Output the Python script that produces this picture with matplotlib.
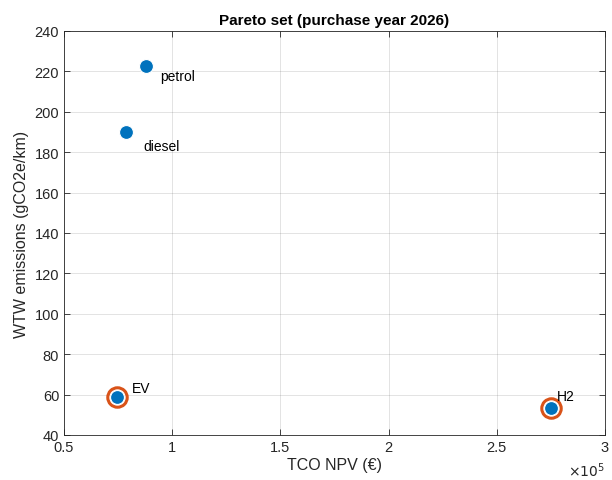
import numpy as np
import matplotlib
matplotlib.use('Agg')
import matplotlib.pyplot as plt
from matplotlib.ticker import FuncFormatter, MultipleLocator

plt.rcParams['font.family'] = ['Liberation Sans', 'DejaVu Sans']

# Data
names = ['petrol', 'diesel', 'EV', 'H2']
tco_npv = np.array([88000, 78800, 74500, 275000])    # EUR
wtw = np.array([222.5, 190.0, 59.0, 53.3])           # gCO2e/km
pareto = [False, False, True, True]
# label offsets in points (dx, dy)
label_offsets = [(10, -7), (12, -10), (11, 6), (4, 9)]

blue = '#0072BD'
orange = '#D95319'
axis_col = '#262626'

fig = plt.figure(figsize=(6.12, 4.81), dpi=100)
ax = fig.add_axes([0.1046, 0.0936, 0.884, 0.84])

px = tco_npv[pareto]
py = wtw[pareto]
ax.plot(px, py, 'o', ms=14, mfc='none', mec=orange, mew=2.2, zorder=3)
ax.plot(tco_npv, wtw, 'o', ms=10, mfc=blue, mec='white', mew=0.8, zorder=4)

for n, x, y, off in zip(names, tco_npv, wtw, label_offsets):
    ax.annotate(n, (x, y), xytext=off, textcoords='offset points',
                fontsize=10, color='black', va='center', ha='left')

ax.set_xlim(50000, 300000)
ax.set_ylim(40, 240)
ax.xaxis.set_major_locator(MultipleLocator(50000))
ax.yaxis.set_major_locator(MultipleLocator(20))
ax.xaxis.set_major_formatter(FuncFormatter(lambda v, p: f'{v/1e5:g}'))

ax.grid(True, color='#262626', alpha=0.15, linewidth=0.6)
ax.tick_params(direction='in', top=True, right=True, labelsize=10.5,
               colors=axis_col, length=4, width=0.6)
for s in ax.spines.values():
    s.set_color(axis_col)
    s.set_linewidth(0.6)

ax.set_title('Pareto set (purchase year 2026)', fontsize=11, fontweight='bold', pad=5)
ax.set_xlabel('TCO NPV (€)', fontsize=11.5, color=axis_col, labelpad=2)
ax.set_ylabel('WTW emissions (gCO2e/km)', fontsize=11.5, color=axis_col, labelpad=4)
ax.text(1.0, -0.062, r'$\times10^{5}$', transform=ax.transAxes, ha='right',
        va='top', fontsize=10, color=axis_col)

fig.savefig('out.png', dpi=100)
